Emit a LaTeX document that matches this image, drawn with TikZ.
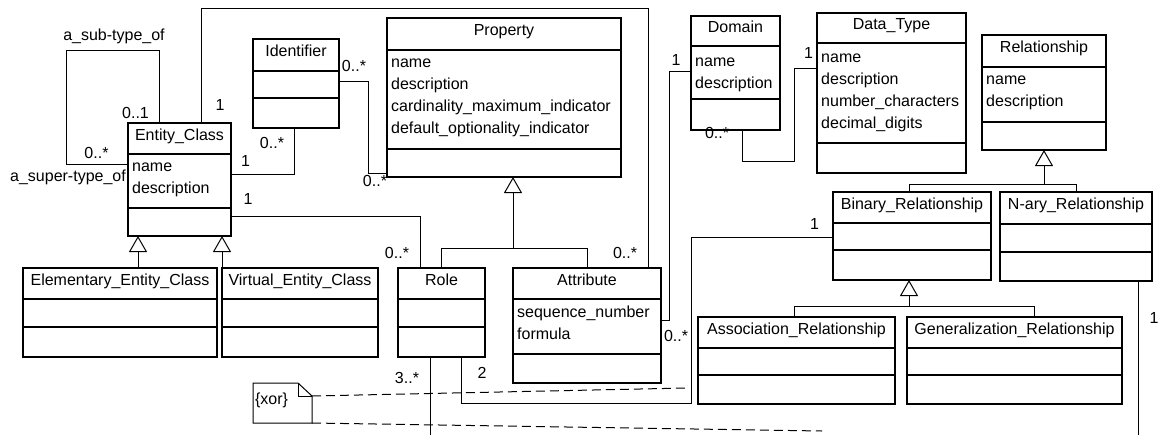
\documentclass[tikz,border=0pt]{standalone}
\usepackage{fontspec}
\setmainfont{Liberation Sans}
\usetikzlibrary{arrows.meta}

\tikzset{
  clsbox/.style={draw, line width=1.2pt, inner sep=0pt, outer sep=0pt, fill=white},
  clsline/.style={line width=1.2pt},
  txt/.style={inner sep=0pt, text height=12pt, text depth=3.5pt,
              font=\fontsize{16}{19}\selectfont},
  attrtxt/.style={txt, anchor=west},
  conn/.style={line width=1pt},
  genarrow/.style={conn, -{Triangle[open, length=16pt, width=18pt]}},
  xordash/.style={line width=1pt, dash pattern=on 9pt off 5pt},
}

% class box: name, left, top, right, first separator, second separator, bottom, title
\newcommand\umlclass[8]{%
  \node[clsbox, minimum width={(#4-#2)*1pt}, minimum height={(#7-#3)*1pt},
        anchor=north west] (#1) at (#2,#3) {};
  \draw[clsline] (#1.west |- 0,#5) -- (#1.east |- 0,#5);
  \draw[clsline] (#1.west |- 0,#6) -- (#1.east |- 0,#6);
  \node[txt] (#1-title) at ({(#2+#4)/2},{(#3+#5)/2-2.5}) {#8};
}
% attribute lines: class name, left, y of the first line, list
\newcommand\umlattrs[4]{%
  \foreach \a [count=\i from 0] in {#4}
    \node[attrtxt] (#1-attr\i) at (#2+4,{#3+22*\i}) {\a};
}

\begin{document}
\begin{tikzpicture}[x=1pt, y=-1pt]
\useasboundingbox (0,0) rectangle (1161,434);
\fill[white] (0,0) rectangle (1161,434);

% ---------- classes ----------
\umlclass{ec}{128}{123}{231}{154}{208}{236}{Entity\_Class}
\umlattrs{ec}{128}{167}{name,description}
\umlclass{id}{253}{39}{339}{71}{98}{128}{Identifier}
\umlclass{prop}{387}{18}{621}{50}{149}{177}{Property}
\umlattrs{prop}{387}{63}{name,description,cardinality\_maximum\_indicator,default\_optionality\_indicator}
\umlclass{dom}{691}{16}{780}{46}{99}{130}{Domain}
\umlattrs{dom}{691}{62}{name,description}
\umlclass{dt}{817}{13}{966}{43}{143}{173}{Data\_Type}
\umlattrs{dt}{817}{58}{name,description,number\_characters,decimal\_digits}
\umlclass{rel}{982}{35}{1106}{67}{122}{150}{Relationship}
\umlattrs{rel}{982}{80}{name,description}
\umlclass{bin}{833}{192}{991}{223}{250}{280}{Binary\_Relationship}
\umlclass{nary}{1000}{192}{1152}{224}{252}{281}{N-ary\_Relationship}
\umlclass{assoc}{698}{317}{895}{348}{375}{404}{Association\_Relationship}
\umlclass{genr}{907}{317}{1122}{348}{375}{404}{Generalization\_Relationship}
\umlclass{role}{398}{268}{485}{299}{327}{357}{Role}
\umlclass{attr}{513}{268}{661}{299}{354}{383}{Attribute}
\umlattrs{attr}{513}{313}{sequence\_number,formula}
\umlclass{elem}{23}{268}{217}{299}{327}{357}{Elementary\_Entity\_Class}
\umlclass{virt}{222}{268}{378}{299}{327}{357}{Virtual\_Entity\_Class}

% ---------- generalizations ----------
\draw[conn] (elem.north -| 138,0) -- (138,253);
\draw[genarrow] (138,253) -- (ec.south -| 138,0);
\draw[genarrow] (virt.north west) -- (ec.south -| 222,0);

\draw[conn] (role.north -| 441,0) |- (513,248);
\draw[conn] (attr.north -| 587,0) |- (513,248);
\draw[genarrow] (513,248) -- (prop.south -| 513,0);

\draw[conn] (bin.north -| 909,0) |- (1044,184);
\draw[conn] (nary.north -| 1076,0) |- (1044,184);
\draw[genarrow] (1044,184) -- (rel.south -| 1044,0);

\draw[conn] (assoc.north -| 794,0) |- (909,306);
\draw[conn] (genr.north -| 1034,0) |- (909,306);
\draw[genarrow] (909,306) -- (bin.south -| 909,0);

% ---------- associations ----------
% recursive super-type / sub-type
\draw[conn] (ec.north -| 159,0) |- (66,50) |- (ec.west |- 0,164);
\node[txt] (l-sub) at (114,36) {a\_sub-type\_of};
\node[txt] (l-sup) at (68,177.5) {a\_super-type\_of};
\node[txt] (m-sub) at (135.5,114) {0..1};
\node[txt] (m-sup) at (96.5,154) {0..*};

% Entity_Class -- Attribute
\draw[conn] (ec.north -| 201,0) |- (648,8) -- (attr.north -| 648,0);
\node[txt] (m-eca1) at (220,106.5) {1};
\node[txt] (m-eca2) at (625,254) {0..*};

% Entity_Class -- Identifier
\draw[conn] (ec.east |- 0,174) -| (id.south -| 294,0);
\node[txt] (m-eci1) at (245.5,162.5) {1};
\node[txt] (m-eci2) at (272,144) {0..*};

% Identifier -- Property
\draw[conn] (id.east |- 0,81) -| (368,173) -- (prop.west |- 0,173);
\node[txt] (m-idp1) at (354,67.5) {0..*};
\node[txt] (m-idp2) at (375,182.5) {0..*};

% Entity_Class -- Role
\draw[conn] (ec.east |- 0,216) -| (role.north -| 420,0);
\node[txt] (m-ecr1) at (248,200.5) {1};
\node[txt] (m-ecr2) at (397,254) {0..*};

% Domain -- Attribute
\draw[conn] (dom.west |- 0,71) -| (669,320) -- (attr.east |- 0,320);
\node[txt] (m-da1) at (676,61) {1};
\node[txt] (m-da2) at (676,337.5) {0..*};

% Domain -- Data_Type
\draw[conn] (dom.south -| 742,0) |- (794,161) |- (dt.west |- 0,68);
\node[txt] (m-dd1) at (717,134) {0..*};
\node[txt] (m-dd2) at (808.5,54) {1};

% Binary_Relationship -- Role
\draw[conn] (bin.west |- 0,237) -| (691,403) -| (role.south -| 461,0);
\node[txt] (m-br1) at (814.5,225) {1};
\node[txt] (m-br2) at (482,374) {2};

% Role and N-ary_Relationship ends running on below
\coordinate (role-end) at (430,440);
\coordinate (nary-end) at (1138,440);
\draw[conn] (role.south -| 430,0) -- (role-end);
\node[txt] (m-rd) at (407,379) {3..*};
\draw[conn] (nary.south -| 1138,0) -- (nary-end);
\node[txt] (m-nd) at (1154,319) {1};

% ---------- {xor} constraint note ----------
\node[inner sep=0pt, outer sep=0pt, minimum width=59pt, minimum height=40pt,
      anchor=north west] (xor) at (253,383) {};
\draw[conn, fill=white] (xor.north west) -- (xor.north -| 298,0) -- (xor.east |- 0,396)
  -- (xor.south east) -- (xor.south west) -- cycle;
\draw[conn] (xor.north -| 298,0) |- (xor.east |- 0,396);
\node[txt] (xor-text) at (271.5,400.5) {\{xor\}};
\coordinate (xor-a) at (687,385);
\coordinate (xor-b) at (822,431);
\draw[xordash] (xor.east |- 0,396) -- (687,388) -- (xor-a);
\draw[xordash] (xor.south east) -- (xor-b);
\end{tikzpicture}
\end{document}
